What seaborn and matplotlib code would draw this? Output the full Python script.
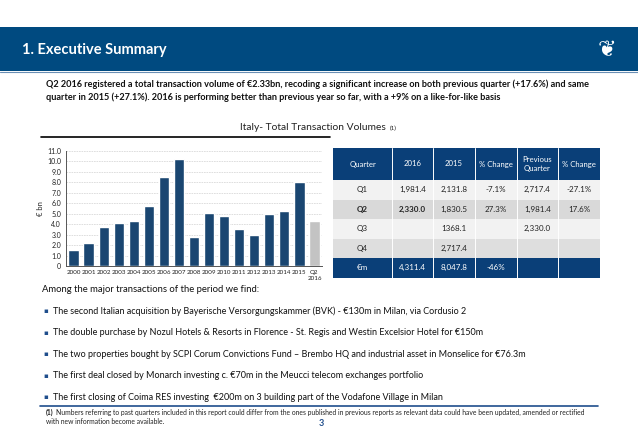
import matplotlib
matplotlib.use("Agg")
import matplotlib.pyplot as plt
from matplotlib.patches import Rectangle
import seaborn as sns
import pandas as pd

# chart data (EUR bn)
years = ["2000", "2001", "2002", "2003", "2004", "2005", "2006", "2007", "2008",
         "2009", "2010", "2011", "2012", "2013", "2014", "2015", "Q2\n2016"]
volumes = [1.5, 2.2, 3.75, 4.1, 4.3, 5.7, 8.5, 10.2, 2.8,
           5.1, 4.75, 3.5, 3.0, 4.95, 5.3, 8.05, 4.31]

# table data
tab_header = ["Quarter", "2016", "2015", "% Change", "Previous\nQuarter", "% Change"]
tab_quarter = ["Q1", "Q2", "Q3", "Q4", "€m"]
tab_2016 = ["1,981.4", "2,330.0", "", "", "4,311.4"]
tab_2015 = ["2,131.8", "1,830.5", "1368.1", "2,717.4", "8,047.8"]
tab_chg = ["-7.1%", "27.3%", "", "", "-46%"]
tab_prev = ["2,717.4", "1,981.4", "2,330.0", "", ""]
tab_chg2 = ["-27.1%", "17.6%", "", "", ""]

intro = ("Q2 2016 registered a total transaction volume of €2.33bn, recoding a significant increase on both previous quarter (+17.6%) and same\n"
         "quarter in 2015 (+27.1%). 2016 is performing better than previous year so far, with a +9% on a like-for-like basis")
bullets = [
    "The second Italian acquisition by Bayerische Versorgungskammer (BVK) - €130m in Milan, via Cordusio 2",
    "The double purchase by Nozul Hotels & Resorts in Florence - St. Regis and Westin Excelsior Hotel for €150m",
    "The two properties bought by SCPI Corum Convictions Fund – Brembo HQ and industrial asset in Monselice for €76.3m",
    "The first deal closed by Monarch investing c. €70m in the Meucci telecom exchanges portfolio",
    "The first closing of Coima RES investing  €200m on 3 building part of the Vodafone Village in Milan",
]

sns.set_style("white")
plt.rcParams["font.family"] = ["Lato", "DejaVu Sans"]

W, H = 638, 442
BLUE = "#0b4680"
DARK = "#0a3f78"
fig = plt.figure(figsize=(W / 100, H / 100), dpi=100)

# page layer in pixel coordinates
page = fig.add_axes([0, 0, 1, 1])
page.set_xlim(0, W)
page.set_ylim(H, 0)
page.axis("off")

page.add_patch(Rectangle((0, 27), W, 44, color="#004a80", lw=0))
page.plot([0, W], [71.5, 71.5], color="#6a8fb5", lw=0.8)
page.text(22, 50, "1. Executive Summary", color="white", fontsize=10.5,
          fontweight="bold", va="center")
page.text(607, 50, "❦", color="white", fontsize=16, va="center", ha="center",
          family=["DejaVu Sans"])

page.text(46, 91, intro, fontsize=6.55, fontweight="bold", va="center",
          linespacing=1.45, color="#111111")

page.text(240, 127, "Italy- Total Transaction Volumes", fontsize=7.4, ha="left",
          va="center", color="#222222")
page.text(390, 128, "(1)", fontsize=4.5, ha="left", va="center", color="#222222")
page.plot([41, 330], [137, 137], color="black", lw=1.2)

# table
col_edges = [333, 392, 433, 475, 517, 558, 600]
head_top, head_bot = 148, 180
row_h = 19.5
row_colors = ["#f2f2f2", "#d9d9d9", "#f2f2f2", "#dedede", DARK]
page.add_patch(Rectangle((col_edges[0], head_top), col_edges[-1] - col_edges[0],
                         head_bot - head_top, color=DARK, lw=0))
for j, h in enumerate(tab_header):
    cx = (col_edges[j] + col_edges[j + 1]) / 2
    page.text(cx, (head_top + head_bot) / 2, h, color="white", fontsize=5.6,
              ha="center", va="center", linespacing=1.2)
cols = [tab_quarter, tab_2016, tab_2015, tab_chg, tab_prev, tab_chg2]
for i in range(len(tab_quarter)):
    y0 = head_bot + i * row_h
    page.add_patch(Rectangle((col_edges[0], y0), col_edges[-1] - col_edges[0],
                             row_h, color=row_colors[i], lw=0))
    for j, c in enumerate(cols):
        cx = (col_edges[j] + col_edges[j + 1]) / 2
        bold = (i == 1 and j < 2)
        color = "white" if i == 4 else "#222222"
        page.text(cx, y0 + row_h / 2, c[i], fontsize=5.8, ha="center", va="center",
                  color=color, fontweight="bold" if bold else "normal")
for x in col_edges[1:-1]:
    page.plot([x, x], [head_top, head_bot + 5 * row_h], color="white", lw=0.7)

# text below
page.text(42, 290, "Among the major transactions of the period we find:", fontsize=6.8,
          va="center", color="#111111")
for k, b in enumerate(bullets):
    y = 311 + k * 21.6
    page.text(43, y, "▪", fontsize=5, va="center", color="#1f4e8c",
              family=["DejaVu Sans"])
    page.text(53, y, b, fontsize=6.45, va="center", color="#111111")
page.plot([40, 598], [406, 406], color="#1f4e8c", lw=1.2)
page.text(46, 412, "(1)", fontsize=4.9, fontweight="bold", va="center", color="#222222")
page.text(56, 412, "Numbers referring to past quarters included in this report could differ from the ones published in previous reports as relevant data could have been updated, amended or rectified",
          fontsize=4.9, va="center", color="#222222")
page.text(46, 422, "with new information become available.", fontsize=4.9, va="center",
          color="#222222")
page.text(319, 424, "3", fontsize=6.5, fontweight="bold", va="center", color="#1f4e8c")

# bar chart
ax = fig.add_axes([66 / W, 1 - 266 / H, 256 / W, 115 / H])
df = pd.DataFrame({"year": years, "volume": volumes})
pal = [BLUE] * (len(years) - 1) + ["#c3c3c3"]
sns.barplot(data=df, x="year", y="volume", hue="year", palette=pal, legend=False,
            width=0.68, ax=ax, zorder=3)
ax.set_xlim(-0.5, len(years) - 0.5)
ax.set_ylim(0, 11)
ticks = list(range(0, 12))
ax.set_yticks(ticks)
ax.set_yticklabels(["0"] + [f"{t:.1f}" for t in ticks[1:]])
ax.grid(axis="y", color="#d9d9d9", lw=0.6, ls=(0, (2, 1)), zorder=0)
ax.set_xlabel("")
ax.set_ylabel("€ bn", fontsize=5.5, labelpad=2)
ax.tick_params(axis="y", labelsize=5.0, length=2, width=0.6, pad=1.5,
               colors="#222222")
ax.tick_params(axis="x", labelsize=4.5, length=0, pad=3, colors="#222222")
for s in ["top", "right"]:
    ax.spines[s].set_visible(False)
for s in ["left", "bottom"]:
    ax.spines[s].set_color("#555555")
    ax.spines[s].set_linewidth(0.7)
ax.set_facecolor("none")

fig.savefig("out.png", dpi=100)
